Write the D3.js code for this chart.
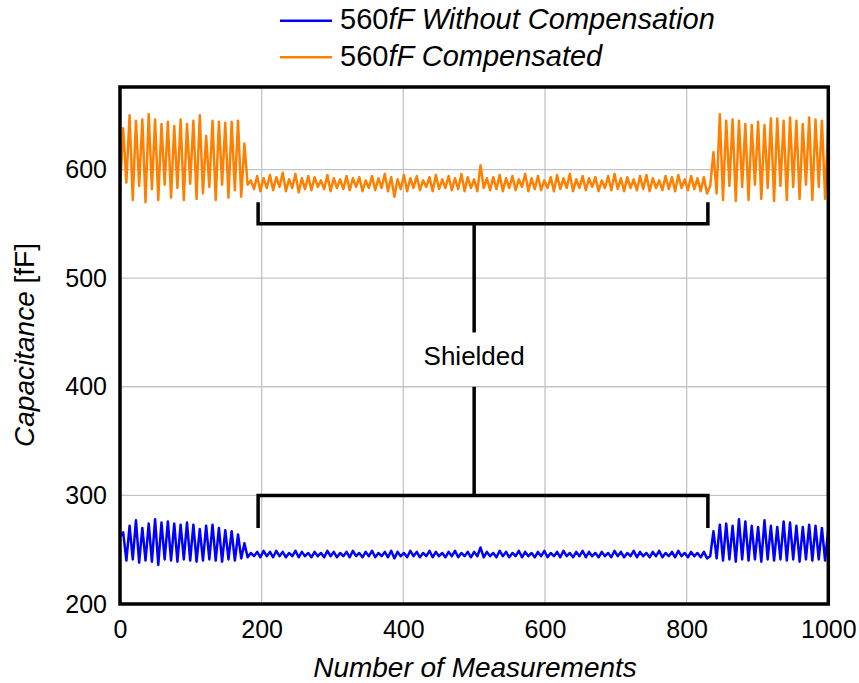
<!DOCTYPE html>
<html><head><meta charset="utf-8">
<script src="https://cdn.jsdelivr.net/npm/d3@7/dist/d3.min.js"></script>
<style>
body{margin:0;background:#fff;}
text{font-family:"Liberation Sans",Arial,sans-serif;fill:#000;}
</style>
</head><body>
<svg id="chart" width="859" height="683"></svg>
<script>
// ---------- data ----------
const xTicks = [0, 200, 400, 600, 800, 1000];
const yTicks = [200, 300, 400, 500, 600];
const seriesNames = ["560fF Without Compensation", "560fF Compensated"];
const seriesColors = ["#0000ff", "#ff8000"];

// Compensated (orange) – unshielded start, shielded middle, unshielded end
const compLeft = [580,638,588,650,572,645,585,646,570,651,582,646,572,642,586,644,574,640,583,646,572,642,587,645,573,650,578,631,584,645,572,644,586,643,574,644,581,645,575,624,586];
const compShielded = [
590,582,594,580,592,583,595,581,593,584,
597,580,591,583,596,579,592,582,594,581,
593,584,590,582,595,580,592,583,591,582,
594,581,592,584,593,580,590,583,594,581,
592,583,596,580,593,575,591,582,595,580,
592,583,594,581,590,584,593,580,595,582,
591,583,594,581,592,582,596,580,593,583,
591,580,604,583,592,581,593,582,595,580,
592,583,594,581,591,584,596,580,592,582,
594,581,590,583,593,580,595,582,592,583,
596,580,591,583,594,581,592,584,593,580,
590,583,594,581,596,582,592,580,593,583,
591,581,594,582,595,580,592,583,590,581,
594,582,593,580,595,583,591,581,594,582,
592,580,593,578];
const compRight = [585,616,578,651,572,645,585,646,571,645,584,642,572,641,586,644,573,641,583,647,571,647,585,645,572,648,584,645,573,642,586,648,572,646,584,645,573,643];

// Without compensation (blue)
const rawLeft = [262,266,240,272,241,277,238,270,240,274,239,278,236,275,241,276,240,274,239,273,241,275,240,273,239,269,240,272,241,273,240,270,239,268,241,267,240,264,242,256,243];
const rawShielded = [
247,244,248,243,249,244,248,243,249,244,
248,243,247,244,249,243,248,244,247,243,
248,244,247,243,249,244,248,243,247,244,
248,243,249,244,247,243,248,244,249,243,
247,244,248,243,249,242,248,244,247,243,
249,244,248,243,247,244,249,243,248,244,
247,243,248,244,249,243,247,244,248,243,
248,244,252,243,248,244,247,243,249,244,
248,243,247,244,249,243,248,244,247,243,
248,244,249,243,247,244,248,243,249,244,
247,243,248,244,249,243,248,244,247,243,
248,244,247,243,249,244,248,243,247,244,
249,243,248,244,247,243,248,244,249,243,
247,244,248,243,249,244,247,243,248,244,
247,243,248,242];
const rawRight = [244,267,242,273,240,274,241,272,239,278,241,276,240,272,241,271,239,277,241,272,240,271,241,276,240,275,241,272,239,271,241,273,240,272,241,270,240,269];

// annotation
const shieldStart = 195, shieldEnd = 830, shieldMid = 500;
const topBracket = {y: 550, tickTo: 570, stemTo: 450};
const botBracket = {y: 300, tickTo: 270, stemTo: 400};
const annotationLabel = "Shielded";

// ---------- build ----------
const compVals = compLeft.concat(compShielded, compRight);
const rawVals = rawLeft.concat(rawShielded, rawRight);
const n = compVals.length;
const toPts = vals => vals.map((v, i) => ({m: i * 1000 / (n - 1), v}));
const series = [toPts(rawVals), toPts(compVals)];

const svg = d3.select("#chart");
const L = 120, R = 828.3, T = 87, B = 604;
const x = d3.scaleLinear().domain([0, 1000]).range([L, R]);
const y = d3.scaleLinear().domain([200, 676]).range([B, T]);

// grid
const grid = svg.append("g").attr("stroke", "#c4c4c4").attr("stroke-width", 1.3);
grid.selectAll(".gx").data(xTicks.slice(1, -1)).enter().append("line")
  .attr("x1", d => x(d)).attr("x2", d => x(d)).attr("y1", T).attr("y2", B);
grid.selectAll(".gy").data(yTicks.slice(1)).enter().append("line")
  .attr("y1", d => y(d)).attr("y2", d => y(d)).attr("x1", L).attr("x2", R);

// clip
svg.append("clipPath").attr("id", "clip").append("rect")
  .attr("x", L).attr("y", T).attr("width", R - L).attr("height", B - T);

const line = d3.line().x(d => x(d.m)).y(d => y(d.v));
svg.append("g").attr("clip-path", "url(#clip)").selectAll("path").data(series).enter()
  .append("path").attr("d", line).attr("fill", "none")
  .attr("stroke", (d, i) => seriesColors[i]).attr("stroke-width", 2.5)
  .attr("stroke-linejoin", "round");

// brackets
const br = svg.append("g").attr("stroke", "#000").attr("stroke-width", 3.5).attr("fill", "none");
[topBracket, botBracket].forEach(b => {
  br.append("path").attr("d",
    `M${x(shieldStart)},${y(b.tickTo)}V${y(b.y)}H${x(shieldEnd)}V${y(b.tickTo)}`);
  br.append("line").attr("x1", x(shieldMid)).attr("x2", x(shieldMid))
    .attr("y1", y(b.y)).attr("y2", y(b.stemTo));
});
svg.append("text").attr("x", x(shieldMid)).attr("y", 365).attr("text-anchor", "middle")
  .attr("font-size", 26).text(annotationLabel);

// frame
svg.append("rect").attr("x", L).attr("y", T).attr("width", R - L).attr("height", B - T)
  .attr("fill", "none").attr("stroke", "#000").attr("stroke-width", 3.5);

// axes labels
const xa = svg.append("g").attr("transform", `translate(0,${B})`)
  .call(d3.axisBottom(x).tickValues(xTicks).tickSize(0).tickPadding(16).tickFormat(d3.format("d")));
xa.select(".domain").remove();
xa.selectAll("text").attr("font-size", 25).attr("font-family", "Liberation Sans").attr("fill", "#000");

const ya = svg.append("g").attr("transform", `translate(${L},0)`)
  .call(d3.axisLeft(y).tickValues(yTicks).tickSize(0).tickPadding(13).tickFormat(d3.format("d")));
ya.select(".domain").remove();
ya.selectAll("text").attr("font-size", 25).attr("font-family", "Liberation Sans").attr("fill", "#000");

svg.append("text").attr("x", 475).attr("y", 677).attr("text-anchor", "middle")
  .attr("font-size", 28).attr("font-style", "italic").text("Number of Measurements");

const yt = svg.append("text").attr("transform", "translate(34,345) rotate(-90)")
  .attr("text-anchor", "middle").attr("font-size", 28);
yt.append("tspan").attr("font-style", "italic").text("Capacitance");
yt.append("tspan").text(" [fF]");

// legend
const lg = svg.append("g");
const legendRows = [{y: 20.7, base: 29}, {y: 57.3, base: 66}];
seriesNames.forEach((name, i) => {
  const r = legendRows[i];
  lg.append("line").attr("x1", 280).attr("x2", 332).attr("y1", r.y).attr("y2", r.y)
    .attr("stroke", seriesColors[i]).attr("stroke-width", 2.5);
  const t = lg.append("text").attr("x", 340).attr("y", r.base).attr("font-size", 29);
  const num = name.slice(0, 3), rest = name.slice(3);
  t.append("tspan").text(num);
  t.append("tspan").attr("font-style", "italic").text(rest);
});
</script>
</body></html>
